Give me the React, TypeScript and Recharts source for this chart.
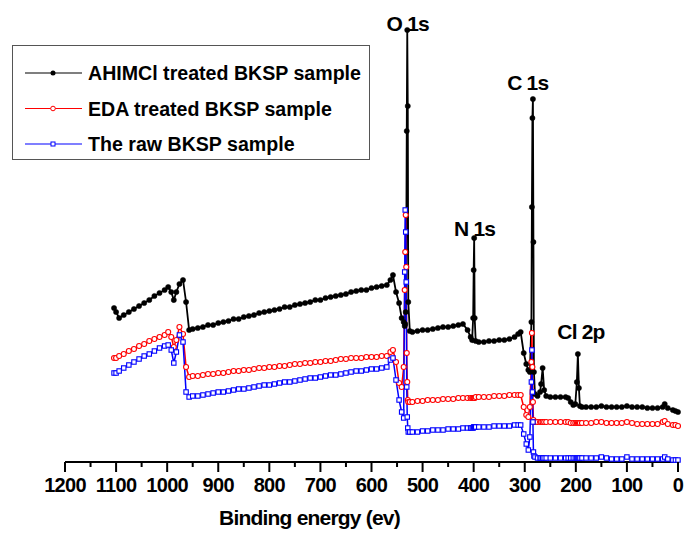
import { Legend, Line, LineChart, ReferenceDot, XAxis, YAxis } from 'recharts'

// binding energy (eV), descending like the spectrometer output
const energy = [
  1104, 1100, 1094, 1085, 1075, 1065, 1055, 1045, 1035, 1025, 1015, 1005, 998, 992, 987, 982, 976, 969, 963, 957,
  950, 940, 930, 920, 910, 900, 890, 880, 870, 860, 850, 840, 830, 820, 810, 800, 790, 780, 770, 760,
  750, 740, 730, 720, 710, 700, 690, 680, 670, 660, 650, 640, 630, 620, 610, 600, 590, 580, 570,
  563, 558, 552, 546, 541, 537, 535, 534, 533, 532, 531, 530, 529, 528, 525,
  520, 510, 500, 490, 480, 470, 460, 450, 440, 430, 421, 412, 406, 403, 401, 400, 399, 398, 396, 390,
  380, 370, 360, 350, 340, 330, 320, 313, 308, 302, 297, 293, 290, 287, 286, 285, 284, 283, 282, 280,
  275, 270, 268, 265, 262, 258,
  250, 240, 230, 220, 215, 210, 205, 201, 198, 196, 194, 192, 188, 180, 170, 160, 150, 140, 130, 120,
  110, 100, 90, 80, 70, 60, 50, 40, 30, 26, 20, 10, 5, 0,
]

// intensities (arbitrary units, curves offset as in the figure)
const ahimcl = [
  154, 150, 144, 147, 150, 153, 156, 159, 162, 166, 169, 172, 175, 170, 162, 170, 178, 182, 160, 132,
  133, 134, 135, 137, 137, 139, 140, 141, 143, 143, 145, 146, 147, 149, 150, 151, 152, 153, 155, 155,
  157, 158, 159, 160, 162, 162, 164, 165, 166, 167, 168, 170, 171, 172, 172, 174, 175, 176, 177,
  182, 187, 170, 159, 144, 140, 136, 138, 150, 210, 331, 432, 356, 160, 131,
  130, 131, 132, 132, 133, 134, 135, 135, 136, 137, 138, 132, 125, 122, 144, 192, 224, 144, 121, 120,
  120, 121, 121, 122, 122, 123, 125, 128, 130, 109, 98, 92, 90, 140, 255, 344, 363, 220, 90, 68,
  66, 70, 78, 94, 72, 66,
  65, 65, 65, 65, 64, 60, 57, 58, 80, 108, 74, 56, 55, 55, 55, 55, 56, 55, 55, 55,
  55, 56, 55, 55, 55, 54, 54, 54, 55, 58, 54, 52, 51, 50,
]

const eda = [
  104, 104, 106, 108, 111, 113, 116, 118, 121, 123, 125, 127, 130, 125, 115, 122, 135, 128, 95, 85,
  86, 86, 87, 88, 88, 89, 89, 90, 91, 91, 92, 92, 93, 94, 94, 95, 95, 96, 96, 97,
  98, 98, 99, 99, 100, 100, 101, 101, 102, 103, 103, 104, 104, 104, 105, 105, 105, 106, 106,
  110, 112, 100, 79, 75, 95, 172, 210, 247, 195, 109, 80, 62, 60, 60,
  60, 61, 61, 62, 62, 62, 63, 63, 63, 64, 64, 64, 64, 64, 64, 64, 64, 64, 65, 65,
  65, 65, 66, 66, 66, 67, 67, 67, 67, 55, 47, 45, 55, 100, 129, 95, 60, 42, 40, 40,
  40, 40, 40, 40, 40, 40,
  40, 40, 40, 40, 40, 39, 39, 39, 39, 39, 39, 39, 39, 39, 39, 40, 40, 39, 39, 39,
  39, 40, 39, 38, 38, 38, 38, 38, 40, 41, 38, 37, 37, 36,
]

const raw = [
  89, 89, 91, 94, 97, 100, 103, 106, 108, 111, 114, 116, 117, 112, 99, 110, 127, 120, 70, 65,
  66, 66, 67, 68, 69, 70, 70, 71, 72, 73, 73, 74, 75, 76, 77, 77, 78, 79, 80, 80,
  81, 82, 83, 84, 84, 85, 86, 87, 87, 88, 89, 90, 91, 91, 92, 93, 93, 94, 95,
  102, 104, 82, 62, 50, 44, 190, 252, 230, 180, 75, 45, 34, 30, 30,
  30, 30, 31, 31, 32, 32, 32, 33, 33, 33, 34, 34, 34, 34, 34, 35, 35, 35, 35, 35,
  35, 35, 36, 36, 36, 36, 37, 37, 37, 28, 18, 12, 25, 80, 112, 70, 40, 10, 6, 5,
  4, 4, 4, 4, 4, 4,
  4, 4, 4, 4, 4, 4, 4, 4, 4, 4, 4, 4, 4, 4, 4, 4, 5, 4, 3, 3,
  3, 5, 3, 3, 3, 3, 3, 3, 3, 5, 3, 2, 2, 2,
]

const xTicks = [
  0, 50, 100, 150, 200, 250, 300, 350, 400, 450, 500, 550, 600, 650, 700, 750, 800, 850, 900, 950, 1000,
  1050, 1100, 1150, 1200,
]

const seriesNames = ['AHIMCl treated BKSP sample', 'EDA treated BKSP sample', 'The raw BKSP sample']

const peakNames = ['O 1s', 'N 1s', 'C 1s', 'Cl 2p']
const peakLabelEnergy = [529, 398, 294, 190]
const peakLabelHeight = [438, 233, 379, 130]

const data = energy.map((e, i) => ({ e, k: ahimcl[i], r: eda[i], b: raw[i] }))

const FONT = '"Liberation Sans", Arial, Helvetica, sans-serif'
const BLACK = '#000000'
const RED = '#ff0000'
const BLUE = '#0000ff'

function SquareDot(props: any) {
  const { cx, cy } = props
  if (cx == null || cy == null) return null
  return <rect x={cx - 2.2} y={cy - 2.2} width={4.4} height={4.4} fill="#ffffff" stroke={BLUE} strokeWidth={1.1} />
}

function XTick(props: any) {
  const { x, y, payload } = props
  const major = payload.value % 100 === 0
  return (
    <g>
      <line x1={x} y1={y} x2={x} y2={y + (major ? 10 : 5)} stroke={BLACK} strokeWidth={2} />
      {major && (
        <text
          x={x}
          y={y + 30}
          textAnchor="middle"
          fontFamily={FONT}
          fontWeight="bold"
          fontSize={20}
          letterSpacing={-0.7}
          fill={BLACK}
        >
          {payload.value}
        </text>
      )}
    </g>
  )
}

function LegendBox() {
  const colors = [BLACK, RED, BLUE]
  return (
    <svg width={358} height={115} style={{ display: 'block' }}>
      <rect x={0.5} y={0.5} width={357} height={114} fill="#ffffff" stroke="#555555" strokeWidth={1} />
      {seriesNames.map((name, i) => {
        const y = 28 + i * 35.5
        const c = colors[i]
        return (
          <g key={name}>
            <line x1={13} y1={y} x2={70} y2={y} stroke={c} strokeWidth={1.2} />
            {i === 0 && <circle cx={41} cy={y} r={2.5} fill={BLACK} />}
            {i === 1 && <circle cx={41} cy={y} r={2.3} fill="#ffffff" stroke={RED} strokeWidth={1} />}
            {i === 2 && <rect x={39} y={y - 2} width={4} height={4} fill="#ffffff" stroke={BLUE} strokeWidth={1} />}
            <text x={76} y={y + 7} fontFamily={FONT} fontWeight="bold" fontSize={19.6} fill={BLACK}>
              {name}
            </text>
          </g>
        )
      })}
    </svg>
  )
}

export default function App() {
  return (
    <div style={{ position: 'absolute', left: 0, top: 0, width: 685, height: 535, background: '#ffffff' }}>
      <LineChart width={685} height={535} data={data} margin={{ top: 12, right: 7, bottom: 0, left: 65 }}>
        <XAxis
          dataKey="e"
          type="number"
          domain={[0, 1200]}
          reversed
          ticks={xTicks}
          interval={0}
          height={73}
          tickSize={0}
          tickMargin={0}
          tickLine={false}
          tick={<XTick />}
          axisLine={{ stroke: BLACK, strokeWidth: 2 }}
          label={{
            content: (p: any) => (
              <text
                x={p.viewBox.x + p.viewBox.width / 2 - 62}
                y={p.viewBox.y + 63}
                textAnchor="middle"
                fontFamily={FONT}
                fontWeight="bold"
                fontSize={21}
                letterSpacing={-0.8}
                fill={BLACK}
              >
                Binding energy (ev)
              </text>
            ),
          }}
        />
        <YAxis hide domain={[0, 450]} />
        <Line
          dataKey="k"
          name={seriesNames[0]}
          type="linear"
          stroke={BLACK}
          strokeWidth={1.8}
          dot={{ r: 2.6, fill: BLACK, stroke: BLACK, strokeWidth: 0.5 }}
          isAnimationActive={false}
        />
        <Line
          dataKey="r"
          name={seriesNames[1]}
          type="linear"
          stroke={RED}
          strokeWidth={1.5}
          dot={{ r: 2.5, fill: '#ffffff', stroke: RED, strokeWidth: 1.1 }}
          isAnimationActive={false}
        />
        <Line
          dataKey="b"
          name={seriesNames[2]}
          type="linear"
          stroke={BLUE}
          strokeWidth={1.5}
          dot={<SquareDot />}
          isAnimationActive={false}
        />
        {peakNames.map((name, i) => (
          <ReferenceDot
            key={name}
            x={peakLabelEnergy[i]}
            y={peakLabelHeight[i]}
            r={0}
            stroke="none"
            fill="none"
            label={{
              value: name,
              position: 'center',
              fill: BLACK,
              fontSize: 21,
              fontWeight: 'bold',
              fontFamily: FONT,
              letterSpacing: -0.8,
            }}
          />
        ))}
        <Legend
          layout="vertical"
          align="center"
          verticalAlign="middle"
          wrapperStyle={{ left: 12, top: 45, width: 358, height: 115 }}
          content={() => <LegendBox />}
        />
      </LineChart>
    </div>
  )
}
